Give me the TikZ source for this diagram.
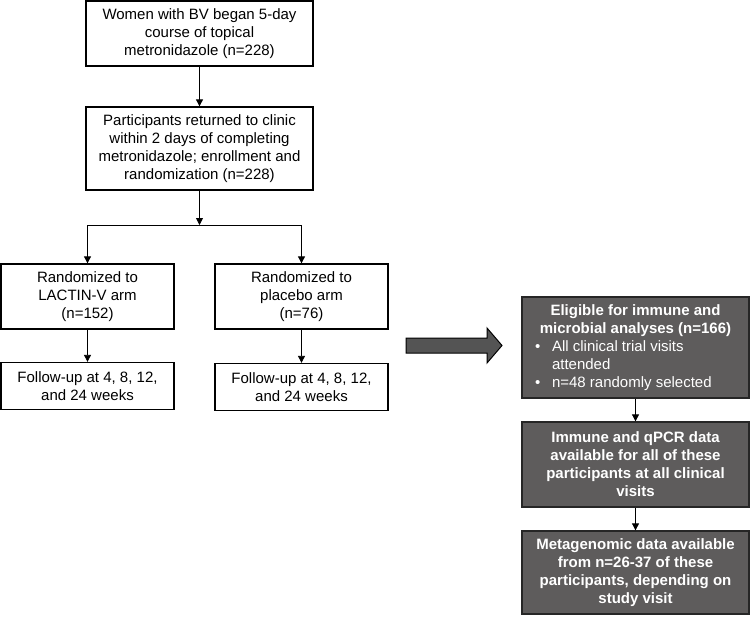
\documentclass[tikz,border=0pt]{standalone}
\usepackage{fontspec}
\setmainfont{Liberation Sans}
\usetikzlibrary{arrows.meta}
\usetikzlibrary{calc}

\definecolor{boxgrey}{RGB}{94,92,92}
\definecolor{arrowgrey}{RGB}{84,84,84}

\begin{document}
\begin{tikzpicture}[x=1pt, y=-1pt,
  box/.style={draw, line width=1.3pt, align=center, inner sep=0pt,
    font=\fontsize{15}{18}\selectfont},
  greybox/.style={box, fill=boxgrey, draw=black!85, text=white},
  link/.style={line width=0.8pt, -{Triangle[width=7pt,length=7pt]}}]

 \useasboundingbox (0,0) rectangle (751,616);

 %trial (left)
 \node[box, minimum width=227pt, minimum height=65pt] (women) at (199.5,33.5)
   {Women with BV began 5-day\\course of topical\\metronidazole (n=228)};
 \node[box, minimum width=227pt, minimum height=83pt] (enrol) at (199.5,148.5)
   {Participants returned to clinic\\within 2 days of completing\\metronidazole; enrollment and\\randomization (n=228)};

 \node[box, minimum width=173pt, minimum height=65pt] (lactin) at (87.5,296.5)
   {Randomized to\\LACTIN-V arm\\(n=152)};
 \node[box, minimum width=173pt, minimum height=65pt] (placebo) at (301.5,296.5)
   {Randomized to\\placebo arm\\(n=76)};

 \node[box, minimum width=173pt, minimum height=47pt] (fuL) at (87.5,386)
   {Follow-up at 4, 8, 12,\\and 24 weeks};
 \node[box, minimum width=173pt, minimum height=47pt] (fuP) at (301.5,387)
   {Follow-up at 4, 8, 12,\\and 24 weeks};

 \coordinate (split) at (199.5,225);

 %arrows
 \draw[link] (women) -- (enrol);
 \draw[link] (enrol) -- (split);
 \draw[link] (split) -| (lactin);
 \draw[link] (split) -| (placebo);
 \foreach \a/\b in {lactin/fuL, placebo/fuP} {
   \draw[link] (\a) -- (\b);
 }

 %big arrow
 \draw[line width=1pt, fill=arrowgrey] (406,338) -- (487,338) -- (487,328)
   -- (502,345.5) -- (487,363) -- (487,353) -- (406,353) -- cycle;

 %analyses (right)
 \node[greybox, minimum width=227pt, minimum height=101pt, align=left] (elig) at (635.5,347.5)
   {\makebox[213pt][c]{\bfseries Eligible for immune and}\\
    \makebox[213pt][c]{\bfseries microbial analyses (n=166)}\\
    \makebox[213pt][l]{\hspace*{6pt}\makebox[17pt][l]{•}All clinical trial visits}\\
    \makebox[213pt][l]{\hspace*{23pt}attended}\\
    \makebox[213pt][l]{\hspace*{6pt}\makebox[17pt][l]{•}n=48 randomly selected}};
 \node[greybox, minimum width=227pt, minimum height=85pt, font=\fontsize{15}{18}\selectfont\bfseries] (qpcr) at (635.5,464.5)
   {Immune and qPCR data\\available for all of these\\participants at all clinical\\visits};
 \node[greybox, minimum width=227pt, minimum height=83pt, font=\fontsize{15}{18}\selectfont\bfseries] (meta) at (635.5,572.5)
   {Metagenomic data available\\from n=26-37 of these\\participants, depending on\\study visit};

 \draw[link] (elig) -- (qpcr);
 \draw[link] (qpcr) -- (meta);

\end{tikzpicture}
\end{document}
